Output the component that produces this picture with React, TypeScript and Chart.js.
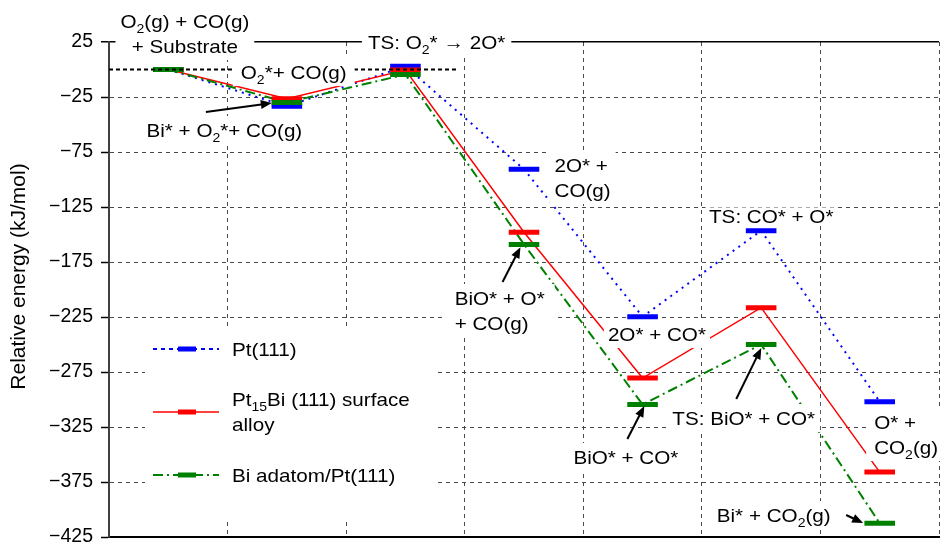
import React, { useEffect, useRef } from 'react';
import { Chart, registerables } from 'chart.js';

Chart.register(...registerables);

// ---------------- data ----------------
const STATES = [
  'O2(g) + CO(g) + Substrate',
  'O2* + CO(g)',
  'TS: O2* → 2O*',
  '2O* + CO(g)',
  '2O* + CO*',
  'TS: CO* + O*',
  'O* + CO2(g)',
];
const PT111 = [0, -33.5, 3, -90.7, -224.7, -146.5, -302];
const PT15BI = [0, -26.5, -0.5, -148, -280.5, -216.5, -366];
const BI_ADATOM = [0, -30, -4.5, -159, -304.5, -250, -412.5];

const Y_TICKS = [25, -25, -75, -125, -175, -225, -275, -325, -375, -425];
const X_GRID = [0, 1, 2, 3, 4, 5, 6, 7];
const REF_LINE_X = [0, 2.94];
const REF_LINE_Y = 0;
const LEVEL_HALF = 0.129;

const Y_TITLE = 'Relative energy (kJ/mol)';
const SERIES_LABELS = [['Pt(111)'], ['Pt_{15}Bi (111) surface', 'alloy'], ['Bi adatom/Pt(111)']];

// ---------------- styles ----------------
const FAMILY = '"Liberation Sans", Arial, Helvetica, sans-serif';
const FS = 18.6;
const SX = 1.11;
const LINE_GAP = 25;
const BLUE = '#0000ff';
const RED = '#ff0000';
const GREEN = '#008000';
const GRID = '#4a4a4a';

type Ann = {
  lines: string[];
  x: number;
  y: number;
  align: 'center' | 'left';
  padX?: number;
  halfH?: number;
  arrow?: [number, number, number, number];
};

const ANNOTATIONS: Ann[] = [
  { lines: ['O_2(g) + CO(g)', '+ Substrate'], x: 0.64, y: 44.1, align: 'center', padX: 5 },
  { lines: ['TS: O_2* → 2O*'], x: 2.763, y: 25, align: 'center', padX: 6 },
  { lines: ['O_2*+ CO(g)'], x: 1.558, y: -2.3, align: 'center', padX: 8 },
  { lines: ['Bi* + O_2*+ CO(g)'], x: 0.973, y: -55, align: 'center', padX: 5, arrow: [0.817, -38.6, 1.373, -30.5] },
  { lines: ['2O* +', 'CO(g)'], x: 3.757, y: -86.8, align: 'left', padX: 5 },
  { lines: ['BiO* + O*', '+ CO(g)'], x: 2.915, y: -207.7, align: 'left', padX: 10, arrow: [3.319, -193.2, 3.47, -161.5] },
  { lines: ['TS: CO* + O*'], x: 5.585, y: -133.6, align: 'center', padX: 4, halfH: 9 },
  { lines: ['2O* + CO*'], x: 4.621, y: -240.5, align: 'center', padX: 4 },
  { lines: ['TS: BiO* + CO*'], x: 5.353, y: -316.8, align: 'center', padX: 5, arrow: [5.29, -299.5, 5.501, -253.2] },
  { lines: ['BiO* + CO*'], x: 4.359, y: -352.3, align: 'center', padX: 5, arrow: [4.372, -335.9, 4.515, -305.9] },
  { lines: ['O* +', 'CO_2(g)'], x: 6.453, y: -320.5, align: 'left', padX: 8 },
  { lines: ['Bi* + CO_2(g)'], x: 5.606, y: -405, align: 'center', padX: 5, arrow: [6.217, -405, 6.36, -412.3] },
];

// ---------------- rich text helpers ----------------
type Seg = { t: string; sub: boolean };
function parseRich(s: string): Seg[] {
  const segs: Seg[] = [];
  let buf = '';
  for (let i = 0; i < s.length; i++) {
    const c = s[i];
    if (c === '_') {
      if (buf) { segs.push({ t: buf, sub: false }); buf = ''; }
      if (s[i + 1] === '{') {
        const j = s.indexOf('}', i + 2);
        segs.push({ t: s.slice(i + 2, j), sub: true });
        i = j;
      } else {
        segs.push({ t: s[i + 1], sub: true });
        i++;
      }
    } else buf += c;
  }
  if (buf) segs.push({ t: buf, sub: false });
  return segs;
}
const mainFont = () => `${FS}px ${FAMILY}`;
const subFont = () => `${FS * 0.68}px ${FAMILY}`;

function richWidth(ctx: CanvasRenderingContext2D, s: string): number {
  let w = 0;
  for (const seg of parseRich(s)) {
    ctx.font = seg.sub ? subFont() : mainFont();
    w += ctx.measureText(seg.t).width;
  }
  return w * SX;
}

function drawRich(ctx: CanvasRenderingContext2D, s: string, x: number, yc: number, align: 'center' | 'left') {
  const w = richWidth(ctx, s);
  const x0 = align === 'center' ? x - w / 2 : x;
  ctx.save();
  ctx.translate(x0, yc);
  ctx.scale(SX, 1);
  ctx.fillStyle = '#000';
  ctx.textAlign = 'left';
  ctx.textBaseline = 'alphabetic';
  const base = 0.36 * FS;
  let cx = 0;
  for (const seg of parseRich(s)) {
    ctx.font = seg.sub ? subFont() : mainFont();
    ctx.fillText(seg.t, cx, seg.sub ? base + 0.27 * FS : base);
    cx += ctx.measureText(seg.t).width;
  }
  ctx.restore();
}

function drawArrow(ctx: CanvasRenderingContext2D, x1: number, y1: number, x2: number, y2: number) {
  const a = Math.atan2(y2 - y1, x2 - x1);
  const hl = 11, hw = 4.5;
  const c = Math.cos(a), s = Math.sin(a);
  ctx.save();
  ctx.strokeStyle = '#000';
  ctx.fillStyle = '#000';
  ctx.lineWidth = 2;
  ctx.beginPath();
  ctx.moveTo(x1, y1);
  ctx.lineTo(x2 - hl * 0.8 * c, y2 - hl * 0.8 * s);
  ctx.stroke();
  ctx.beginPath();
  ctx.moveTo(x2, y2);
  ctx.lineTo(x2 - hl * c + hw * s, y2 - hl * s - hw * c);
  ctx.lineTo(x2 - hl * c - hw * s, y2 - hl * s + hw * c);
  ctx.closePath();
  ctx.fill();
  ctx.restore();
}

const SERIES_STYLE = [
  { color: BLUE, dash: [2, 5], width: 2 },
  { color: RED, dash: [] as number[], width: 1.5 },
  { color: GREEN, dash: [10, 4, 2, 4], width: 2 },
];

const overlayPlugin = {
  id: 'overlay',
  afterDraw(chart: any) {
    const ctx: CanvasRenderingContext2D = chart.ctx;
    const xs = chart.scales.x;
    const ys = chart.scales.y;
    const area = chart.chartArea;

    // y axis title
    ctx.save();
    ctx.translate(19.5, (area.top + area.bottom) / 2 - 13);
    ctx.rotate(-Math.PI / 2);
    ctx.font = `21px ${FAMILY}`;
    ctx.fillStyle = '#000';
    ctx.textAlign = 'center';
    ctx.textBaseline = 'middle';
    ctx.fillText(Y_TITLE, 0, 0);
    ctx.restore();

    // legend
    const bx = area.left + 36, by = area.bottom - 211, bw = 292, bh = 196;
    ctx.save();
    ctx.fillStyle = '#fff';
    ctx.fillRect(bx, by, bw, bh);
    ctx.restore();
    const itemY = [by + 23, by + 86, by + 149];
    SERIES_LABELS.forEach((lines, i) => {
      const st = SERIES_STYLE[i];
      const y = itemY[i];
      ctx.save();
      ctx.strokeStyle = st.color;
      ctx.lineWidth = st.width;
      ctx.setLineDash(i === 0 ? [4, 4] : st.dash);
      ctx.beginPath();
      ctx.moveTo(bx + 8, y);
      ctx.lineTo(bx + 74, y);
      ctx.stroke();
      ctx.setLineDash([]);
      ctx.lineWidth = 5;
      ctx.beginPath();
      ctx.moveTo(bx + 33, y);
      ctx.lineTo(bx + 51, y);
      ctx.stroke();
      ctx.restore();
      const y0 = y - ((lines.length - 1) * LINE_GAP) / 2;
      lines.forEach((ln, k) => drawRich(ctx, ln, bx + 87, y0 + k * LINE_GAP, 'left'));
    });

    // annotations
    for (const a of ANNOTATIONS) {
      const px = xs.getPixelForValue(a.x);
      const py = ys.getPixelForValue(a.y);
      const widths = a.lines.map((l) => richWidth(ctx, l));
      const maxW = Math.max(...widths);
      const left = a.align === 'center' ? px - maxW / 2 : px;
      const padX = a.padX ?? 5;
      const halfH = a.halfH ?? 14;
      ctx.save();
      ctx.fillStyle = '#fff';
      ctx.fillRect(left - padX, py - halfH, maxW + 2 * padX, (a.lines.length - 1) * LINE_GAP + 2 * halfH);
      ctx.restore();
      a.lines.forEach((l, k) => {
        drawRich(ctx, l, a.align === 'center' ? px : left, py + k * LINE_GAP, a.align);
      });
      if (a.arrow) {
        const [x1, y1, x2, y2] = a.arrow;
        drawArrow(ctx, xs.getPixelForValue(x1), ys.getPixelForValue(y1), xs.getPixelForValue(x2), ys.getPixelForValue(y2));
      }
    }
  },
};

function levelData(vals: number[]) {
  const out: { x: number; y: number | null }[] = [];
  vals.forEach((v, i) => {
    out.push({ x: i + 0.5 - LEVEL_HALF, y: v });
    out.push({ x: i + 0.5 + LEVEL_HALF, y: v });
    out.push({ x: i + 0.5 + LEVEL_HALF + 0.01, y: null });
  });
  return out;
}
function connectorData(vals: number[]) {
  return vals.map((v, i) => ({ x: i + 0.5, y: v }));
}

const fmt = (v: number) => (v < 0 ? '\u2212' + Math.abs(v) : String(v));

export default function App() {
  const ref = useRef<HTMLCanvasElement>(null);
  useEffect(() => {
    document.body.style.margin = '0';
    const series = [PT111, PT15BI, BI_ADATOM];
    const levels = [2, 1, 0].map((i) => ({
      label: STATES.join(' | ') + ' level ' + i,
      data: levelData(series[i]),
      borderColor: SERIES_STYLE[i].color,
      borderWidth: 5,
      pointRadius: 0,
      spanGaps: false,
      tension: 0,
      borderCapStyle: 'butt',
      fill: false,
    }));
    const connectors = [2, 1, 0].map((i) => ({
      label: 'connector ' + i,
      data: connectorData(series[i]),
      borderColor: SERIES_STYLE[i].color,
      borderWidth: SERIES_STYLE[i].width,
      borderDash: SERIES_STYLE[i].dash,
      pointRadius: 0,
      tension: 0,
      fill: false,
    }));
    const refLine = {
      label: 'reference',
      data: REF_LINE_X.map((x) => ({ x, y: REF_LINE_Y })),
      borderColor: '#000',
      borderWidth: 2,
      borderDash: [4, 3],
      pointRadius: 0,
      fill: false,
    };
    const chart = new Chart(ref.current as HTMLCanvasElement, {
      type: 'line',
      data: { datasets: [refLine, ...levels, ...connectors] as any },
      options: {
        animation: false,
        responsive: false,
        maintainAspectRatio: false,
        layout: { padding: { top: 42, bottom: 9, left: 0, right: 1 } },
        plugins: { legend: { display: false }, tooltip: { enabled: false } },
        scales: {
          x: {
            type: 'linear',
            min: 0,
            max: 7,
            afterBuildTicks: (s: any) => { s.ticks = X_GRID.map((v) => ({ value: v })); },
            afterFit: (s: any) => { s.height = 0; s.paddingLeft = 0; s.paddingRight = 0; },
            ticks: { display: false },
            grid: {
              color: (c: any) => (c.tick && c.tick.value === 0 ? 'rgba(0,0,0,0)' : GRID),
              drawTicks: false,
              lineWidth: 1,
            },
            border: { color: '#000', width: 2, dash: [4, 4] },
          },
          y: {
            type: 'linear',
            min: -425,
            max: 25,
            afterBuildTicks: (s: any) => { s.ticks = Y_TICKS.map((v) => ({ value: v })); },
            afterFit: (s: any) => { s.width = 109; s.paddingTop = 0; s.paddingBottom = 0; },
            ticks: {
              callback: (v: any) => fmt(Number(v)),
              font: { family: FAMILY, size: 19.5 },
              color: '#000',
              padding: 8,
            },
            grid: {
              color: (c: any) => {
                const v = c.tick ? c.tick.value : null;
                if (v === 25) return '#000';
                if (v === -425) return 'rgba(0,0,0,0)';
                return GRID;
              },
              lineWidth: (c: any) => (c.tick && c.tick.value === 25 ? 1.5 : 1),
              tickColor: '#000',
              tickLength: 8,
              tickWidth: 1.5,
              tickBorderDash: [],
            },
            border: {
              color: '#404040',
              width: 2,
              dash: (c: any) => (c.tick && c.tick.value === 25 ? [] : [4, 4]),
            },
          },
        },
      } as any,
      plugins: [overlayPlugin],
    });
    return () => chart.destroy();
  }, []);
  return (
    <div style={{ width: 940, height: 546 }}>
      <canvas ref={ref} width={940} height={546} style={{ display: 'block' }} />
    </div>
  );
}
